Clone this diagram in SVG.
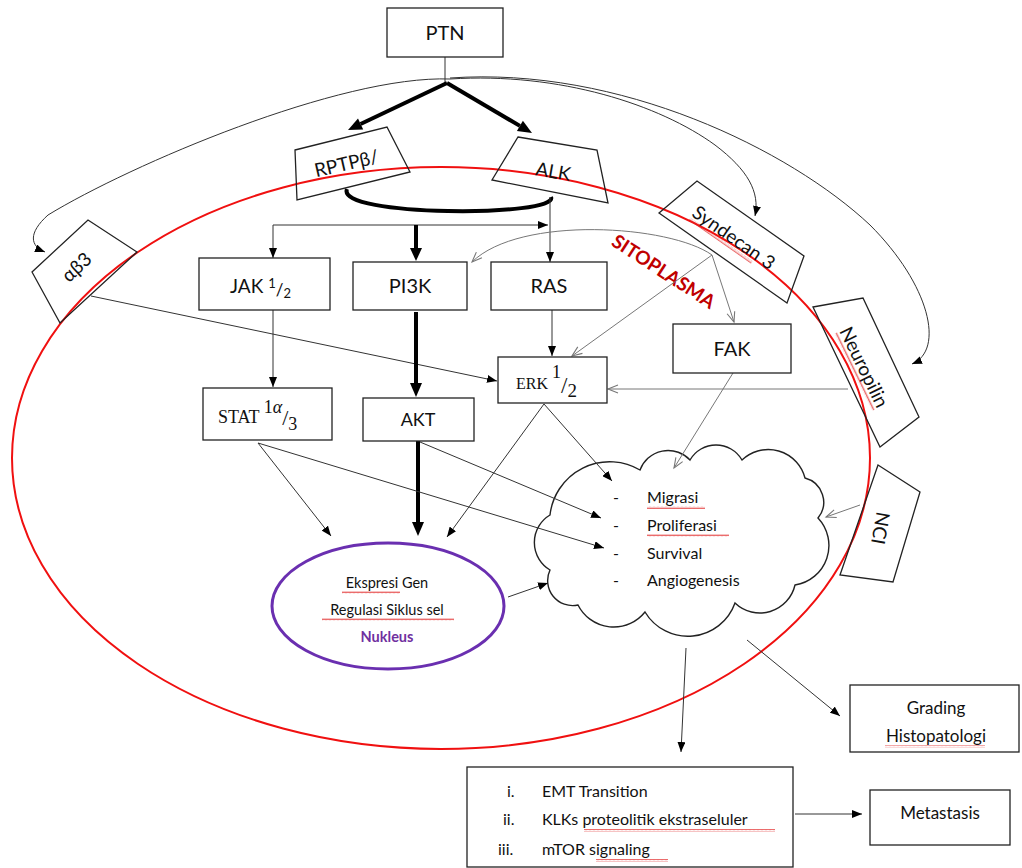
<svg xmlns="http://www.w3.org/2000/svg" width="1022" height="868" viewBox="0 0 1022 868">
<style>
.bx{fill:#fff;stroke:#222;stroke-width:1.3}
.rc{fill:none;stroke:#222;stroke-width:1.3}
.t{font-family:Lato,"Liberation Sans",sans-serif;fill:#111}
.s{font-family:"Liberation Serif",serif;fill:#111}
.c{fill:none;stroke:#333;stroke-width:1}
.g{fill:none;stroke:#777;stroke-width:1}
.k{fill:none;stroke:#000;stroke-width:4}
.h{fill:#000}
.sq{fill:url(#sq)}
</style>
<defs>
<marker id="af" viewBox="0 0 10 8" refX="10" refY="4" markerWidth="10" markerHeight="8" orient="auto" markerUnits="userSpaceOnUse"><path d="M0,0 L10,4 L0,8 z" fill="#000"/></marker>
<marker id="ao" viewBox="0 0 10 8" refX="10" refY="4" markerWidth="10" markerHeight="8" orient="auto" markerUnits="userSpaceOnUse" overflow="visible"><path d="M0,0 L10,4 L0,8" fill="none" stroke="#777" stroke-width="1.1"/></marker>
<pattern id="sq" width="4" height="3" patternUnits="userSpaceOnUse"><path d="M0,2.2 L1,0.6 L2,2.2 L3,0.6 L4,2.2" fill="none" stroke="#e02020" stroke-width="0.7"/></pattern>
</defs>
<rect width="1022" height="868" fill="#fff"/>

<g id="membrane">
<ellipse cx="441" cy="458" rx="429" ry="291" fill="none" stroke="#f01010" stroke-width="2"/>
<text transform="rotate(33 660 277)" x="660" y="277" text-anchor="middle" font-family="Lato,'Liberation Sans',sans-serif" font-weight="bold" font-size="19" fill="#c00000">SITOPLASMA</text>
</g>

<g id="cloud">
<path d="M550,570 A32,32 0 0,1 550,515 A60,60 0 0,1 640,470 A30,30 0 0,1 690,460 A30,30 0 0,1 742,460 A38,38 0 0,1 805,478 A25,25 0 0,1 818,518 A40,40 0 0,1 795,585 A36,36 0 0,1 735,603 A50,50 0 0,1 645,612 A40,40 0 0,1 578,605 A25,25 0 0,1 550,570 Z" fill="#fff" stroke="#222" stroke-width="1.4"/>
<text class="t" font-size="16" x="613" y="503">-</text>
<text class="t" font-size="16" x="647" y="503">Migrasi</text>
<text class="t" font-size="16" x="613" y="531">-</text>
<text class="t" font-size="16" x="647" y="531">Proliferasi</text>
<text class="t" font-size="16" x="613" y="559">-</text>
<text class="t" font-size="16" x="647" y="559">Survival</text>
<text class="t" font-size="16" x="613" y="586">-</text>
<text class="t" font-size="16" x="647" y="586">Angiogenesis</text>
<rect class="sq" x="647" y="506" width="58" height="3"/>
<rect class="sq" x="647" y="534" width="82" height="3"/>
</g>

<g id="connectors">
<path class="c" d="M445,57 V83"/>
<path class="c" d="M450,79 C340,75 130,165 48,215 C28,233 30,246 45,252" marker-end="url(#af)"/>
<path class="c" d="M450,79 C560,72 660,105 715,145 C748,170 760,192 755,216" marker-end="url(#af)"/>
<path class="c" d="M450,78 C620,66 790,150 870,225 C930,285 945,350 912,364" marker-end="url(#af)"/>
<path class="k" d="M447,83 L360.6,124"/>
<polygon class="h" points="348,130 363.2,129.4 358,118.6"/>
<path class="k" d="M447,83 L519.9,125.9"/>
<polygon class="h" points="532,133 516.9,131.1 522.9,120.7"/>
<path class="k" d="M347,189 C335,217 560,217 551,197"/>
<path class="c" d="M550,197 V262" marker-end="url(#af)"/>
<path class="c" d="M273,225 H548" marker-end="url(#af)"/>
<path class="c" d="M273,225 V258" marker-end="url(#af)"/>
<path class="k" d="M416,225 V248"/>
<polygon class="h" points="410,248 422,248 416,261"/>
<path class="c" d="M552,310 V356" marker-end="url(#af)"/>
<path class="c" d="M273,310 V387" marker-end="url(#af)"/>
<path class="c" d="M91,296 L497,381" marker-end="url(#af)"/>
<path class="k" d="M416,312 V383"/>
<polygon class="h" points="410,383 422,383 416,397"/>
<path class="g" d="M712,255 C670,225 520,215 472,262" marker-end="url(#ao)"/>
<path class="g" d="M712,255 L572,356" marker-end="url(#ao)"/>
<path class="g" d="M712,255 L734,322" marker-end="url(#ao)"/>
<path class="g" d="M848,389 H608" marker-end="url(#ao)"/>
<path class="k" d="M418,441 V522"/>
<polygon class="h" points="412,522 424,522 418,536"/>
<path class="c" d="M258,443 L331,536" marker-end="url(#af)"/>
<path class="c" d="M258,443 L604,548" marker-end="url(#af)"/>
<path class="c" d="M420,442 L601,518" marker-end="url(#af)"/>
<path class="c" d="M544,404 L447,537" marker-end="url(#af)"/>
<path class="c" d="M544,404 L612,481" marker-end="url(#af)"/>
<path class="g" d="M733,373 L674,468" marker-end="url(#ao)"/>
<path class="g" d="M860,505 L826,517" marker-end="url(#ao)"/>
<path class="c" d="M508,597 L548,583" marker-end="url(#af)"/>
<path class="c" d="M686,648 L681,752" marker-end="url(#af)"/>
<path class="c" d="M747,640 L840,716" marker-end="url(#af)"/>
<path class="c" d="M795,814 H862" marker-end="url(#af)"/>
</g>

<g id="ptn"><rect class="bx" x="387" y="8" width="116" height="49"/><text class="t" x="445" y="40" font-size="20" text-anchor="middle">PTN</text></g>

<g id="rptp"><polygon class="rc" points="295,150 387,127 410,172 297,200"/><text class="t" transform="rotate(-13 348 170)" x="348" y="170" font-size="19" text-anchor="middle">RPTPβ/</text></g>

<g id="alk"><polygon class="rc" points="518,137 597,150 608,203 492,180"/><text class="t" transform="rotate(10 552 178)" x="552" y="178" font-size="19" text-anchor="middle">ALK</text></g>

<g id="ab3"><polygon class="rc" points="32,272 88,220 137,252 60,323"/><text class="t" transform="rotate(-43 81 272)" x="81" y="272" font-size="19" text-anchor="middle">αβ3</text></g>

<g id="syndecan"><polygon class="rc" points="659,213 697,181 804,256 787,303"/><g transform="rotate(35 730 243)"><text class="t" x="730" y="243" font-size="19" text-anchor="middle">Syndecan 3</text><rect class="sq" x="683" y="245" width="76" height="3"/></g></g>

<g id="neuropilin"><polygon class="rc" points="813,307 863,298 919,417 880,447"/><g transform="rotate(64 858 370)"><text class="t" x="858" y="370" font-size="19" text-anchor="middle">Neuropilin</text><rect class="sq" x="815" y="372" width="86" height="3"/></g></g>

<g id="nci"><polygon class="rc" points="878,465 920,492 893,582 840,575"/><text class="t" transform="rotate(100 874 527)" x="874" y="527" font-size="19" text-anchor="middle">NCI</text></g>

<g id="jak"><rect class="bx" x="199" y="258" width="131" height="52"/><text class="t" x="230" y="293" font-size="19">JAK <tspan font-size="13" dy="-5">1</tspan><tspan font-size="17" dy="8">/</tspan><tspan font-size="13" dy="2">2</tspan></text></g>

<g id="pi3k"><rect class="bx" x="353" y="262" width="114" height="48"/><text class="t" x="410" y="293" font-size="20" text-anchor="middle">PI3K</text></g>

<g id="ras"><rect class="bx" x="491" y="262" width="116" height="48"/><text class="t" x="549" y="293" font-size="20" text-anchor="middle">RAS</text></g>

<g id="erk"><rect class="bx" x="498" y="357" width="109" height="46"/><text class="s" x="516" y="389" font-size="16">ERK <tspan font-size="18" dy="-11">1</tspan><tspan font-size="23" dy="15">/</tspan><tspan font-size="19" dy="4">2</tspan></text></g>

<g id="stat"><rect class="bx" x="203" y="388" width="129" height="52"/><text class="s" x="218" y="423" font-size="18">STAT <tspan font-size="18" dy="-10">1<tspan font-style="italic">α</tspan></tspan><tspan font-size="22" dy="12">/</tspan><tspan font-size="18" dy="5">3</tspan></text></g>

<g id="akt"><rect class="bx" x="363" y="398" width="111" height="43"/><text class="t" x="418" y="426" font-size="18" text-anchor="middle">AKT</text></g>

<g id="fak"><rect class="bx" x="673" y="324" width="118" height="49"/><text class="t" x="732" y="356" font-size="20" text-anchor="middle">FAK</text></g>

<g id="nukleus"><ellipse cx="388" cy="606" rx="116" ry="63" fill="none" stroke="#6a2fb0" stroke-width="3"/>
<text class="t" x="387" y="588" font-size="14.5" text-anchor="middle">Ekspresi Gen</text>
<text class="t" x="387" y="615" font-size="14.5" text-anchor="middle">Regulasi Siklus sel</text>
<text x="387" y="642" font-size="14.5" text-anchor="middle" font-family="Lato,'Liberation Sans',sans-serif" font-weight="bold" fill="#7030a0">Nukleus</text>
<rect class="sq" x="342" y="591" width="58" height="3"/>
<rect class="sq" x="322" y="618" width="132" height="3"/>
</g>

<g id="list"><rect class="bx" x="467" y="767" width="326" height="100"/>
<text class="t" x="507" y="797" font-size="16">i.</text>
<text class="t" x="542" y="797" font-size="16">EMT Transition</text>
<text class="t" x="503" y="825" font-size="16">ii.</text>
<text class="t" x="542" y="825" font-size="16">KLKs proteolitik ekstraseluler</text>
<text class="t" x="498" y="855" font-size="16">iii.</text>
<text class="t" x="542" y="855" font-size="16">mTOR signaling</text>
<rect class="sq" x="584" y="829" width="191" height="3"/>
<rect class="sq" x="596" y="859" width="72" height="3"/>
</g>

<g id="grading"><rect class="bx" x="850" y="685" width="169" height="67"/>
<text class="t" x="936" y="714" font-size="17" text-anchor="middle">Grading</text>
<text class="t" x="936" y="742" font-size="17" text-anchor="middle">Histopatologi</text>
<rect class="sq" x="885" y="745" width="100" height="3" opacity="0.6"/>
</g>

<g id="metastasis"><rect class="bx" x="870" y="790" width="140" height="55"/><text class="t" x="940" y="819" font-size="17" text-anchor="middle">Metastasis</text></g>
</svg>
